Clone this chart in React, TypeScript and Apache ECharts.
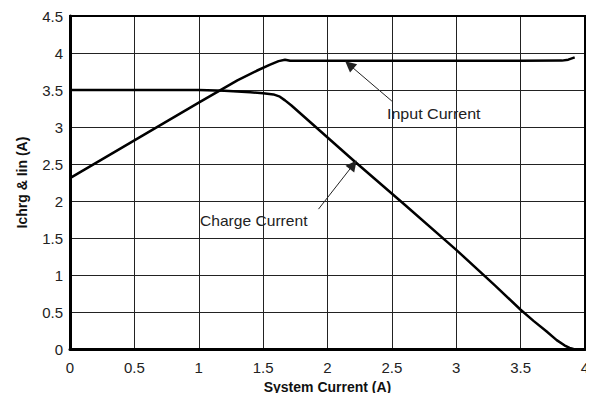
import React, { useEffect, useRef } from "react";
import * as echarts from "echarts";

const xTicks = [0, 0.5, 1, 1.5, 2, 2.5, 3, 3.5, 4];
const yTicks = [0, 0.5, 1, 1.5, 2, 2.5, 3, 3.5, 4, 4.5];

const inputCurrent: [number, number][] = [
  [0, 2.31], [0.5, 2.82], [1.0, 3.33], [1.3, 3.63], [1.45, 3.76], [1.55, 3.84],
  [1.62, 3.89], [1.67, 3.91], [1.71, 3.895], [2.0, 3.895], [2.5, 3.895], [3.0, 3.895],
  [3.5, 3.895], [3.82, 3.897], [3.87, 3.91], [3.92, 3.94],
];

const chargeCurrent: [number, number][] = [
  [0, 3.5], [1.0, 3.5], [1.2, 3.49], [1.4, 3.47], [1.5, 3.455], [1.58, 3.44], [1.63, 3.41],
  [1.67, 3.36], [1.72, 3.29], [2.2, 2.55], [2.6, 1.95], [3.0, 1.34], [3.3, 0.86], [3.5, 0.53],
  [3.6, 0.38], [3.7, 0.24], [3.78, 0.12], [3.84, 0.05], [3.88, 0.015], [3.91, 0],
];

// annotation arrows: [tail, tip] in data units
const inputArrow: [number, number][] = [[2.5, 3.35], [2.17, 3.84]];
const chargeArrow: [number, number][] = [[1.93, 1.89], [2.2, 2.49]];

export default function App() {
  const ref = useRef<HTMLDivElement>(null);
  useEffect(() => {
    if (!ref.current) return;
    const chart = echarts.init(ref.current, null, { renderer: "svg" });
    const font = "Liberation Sans, Arial, sans-serif";
    const arrowLine = (pts: [number, number][]) => ({
      silent: true,
      symbol: ["none", "triangle"],
      symbolSize: 11,
      label: { show: false },
      lineStyle: { color: "#222", width: 1, type: "solid" },
      itemStyle: { color: "#222" },
      data: [[{ coord: pts[0] }, { coord: pts[1] }]],
    });
    chart.setOption({
      animation: false,
      backgroundColor: "#fff",
      textStyle: { fontFamily: font },
      grid: { left: 70, top: 16, right: 9, bottom: 52, show: false },
      xAxis: {
        type: "value",
        min: 0,
        max: 4,
        interval: 0.5,
        name: "System Current (A)",
        nameLocation: "middle",
        nameGap: 26,
        nameTextStyle: { fontSize: 14, fontWeight: "bold", color: "#111", fontFamily: font },
        axisLine: { show: true, onZero: false, lineStyle: { color: "#000", width: 3 } },
        axisTick: { show: false },
        axisLabel: { fontSize: 15, color: "#222", margin: 11, fontFamily: font },
        splitLine: { show: true, lineStyle: { color: "#222", width: 1 } },
      },
      yAxis: {
        type: "value",
        min: 0,
        max: 4.5,
        interval: 0.5,
        name: "Ichrg & Iin (A)",
        nameLocation: "middle",
        nameGap: 41,
        nameTextStyle: { fontSize: 14, fontWeight: "bold", color: "#111", fontFamily: font },
        axisLine: { show: true, lineStyle: { color: "#000", width: 3 } },
        axisTick: { show: false },
        axisLabel: { fontSize: 15, color: "#222", margin: 7, fontFamily: font },
        splitLine: { show: true, lineStyle: { color: "#222", width: 1 } },
      },
      series: [
        {
          type: "line",
          data: chargeCurrent,
          showSymbol: false,
          smooth: false,
          lineStyle: { color: "#000", width: 2.5, join: "round" },
          markLine: arrowLine(chargeArrow),
          z: 3,
        },
        {
          type: "line",
          data: inputCurrent,
          showSymbol: false,
          smooth: false,
          lineStyle: { color: "#000", width: 2.5, join: "round" },
          markLine: arrowLine(inputArrow),
          z: 3,
        },
      ],
      graphic: [
        {
          type: "rect",
          shape: { x: 70, y: 16, width: 515, height: 333 },
          style: { fill: "none", stroke: "#000", lineWidth: 2 },
          silent: true,
          z: 10,
        },
        {
          type: "text",
          x: 387,
          y: 114,
          scaleX: 1.07,
          style: { text: "Input Current", fontSize: 15, fill: "#222", fontFamily: font, verticalAlign: "middle" },
          z: 10,
        },
        {
          type: "text",
          x: 200,
          y: 221,
          scaleX: 1.04,
          style: { text: "Charge Current", fontSize: 15, fill: "#222", fontFamily: font, verticalAlign: "middle" },
          z: 10,
        },
      ],
    });
    return () => chart.dispose();
  }, []);
  return <div ref={ref} style={{ width: 594, height: 401, margin: -8 }} />;
}
